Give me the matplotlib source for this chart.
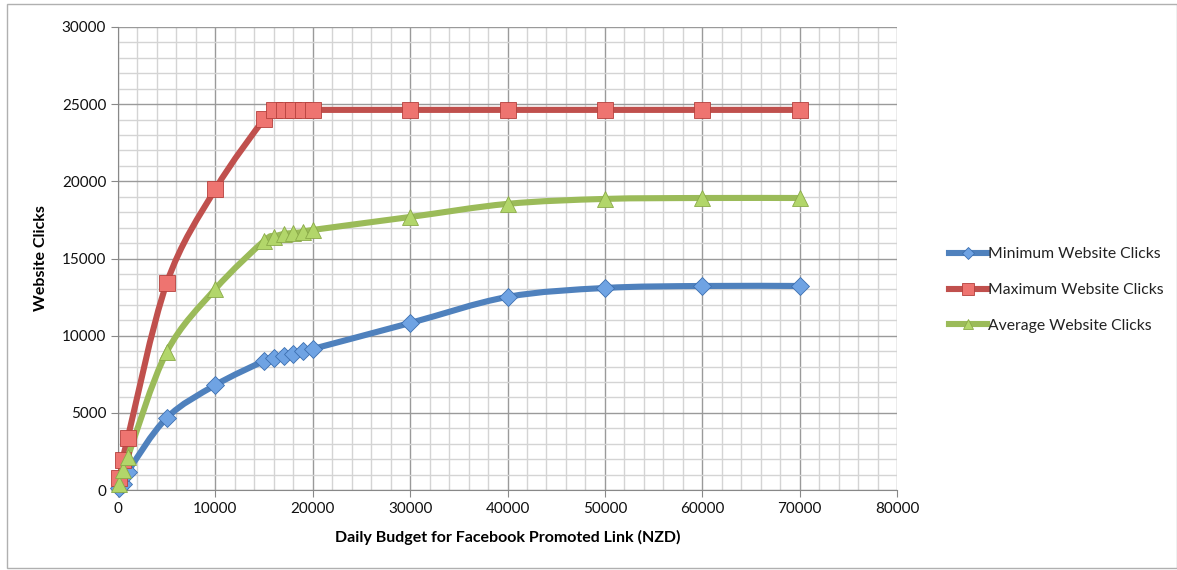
import matplotlib
matplotlib.use("Agg")
import matplotlib.pyplot as plt
from matplotlib.path import Path
from matplotlib.patches import PathPatch, Rectangle
from matplotlib.ticker import MultipleLocator

plt.rcParams['font.family'] = ['Lato', 'DejaVu Sans']

budget = [100, 500, 1000, 5000, 10000, 15000, 16000, 17000, 18000, 19000, 20000,
          30000, 40000, 50000, 60000, 70000]
min_clicks = [100, 400, 1170, 4670, 6800, 8360, 8550, 8680, 8810, 9010, 9140,
              10820, 12510, 13090, 13220, 13220]
max_clicks = [780, 1940, 3370, 13400, 19500, 24040, 24630, 24630, 24630, 24630, 24630,
              24630, 24630, 24630, 24630, 24630]
avg_clicks = [390, 1300, 2140, 8940, 13030, 16140, 16400, 16590, 16650, 16720, 16850,
              17690, 18540, 18860, 18920, 18920]

series = [
    ("Minimum Website Clicks", min_clicks, "#4F81BD", "D", 9, "#6FA3E3", "#3C6FB0"),
    ("Maximum Website Clicks", max_clicks, "#C0504D", "s", 11.5, "#EE7470", "#B5403C"),
    ("Average Website Clicks", avg_clicks, "#9BBB59", "^", 11, "#B2D66A", "#8AAA48"),
]


def smooth_path(xs, ys):
    # Excel style smoothed line (Catmull-Rom -> cubic bezier)
    pts = list(zip(xs, ys))
    verts = [pts[0]]
    codes = [Path.MOVETO]
    n = len(pts)
    for i in range(n - 1):
        p0 = pts[i - 1] if i > 0 else pts[i]
        p1 = pts[i]
        p2 = pts[i + 1]
        p3 = pts[i + 2] if i + 2 < n else pts[i + 1]
        c1 = (p1[0] + (p2[0] - p0[0]) / 6, p1[1] + (p2[1] - p0[1]) / 6)
        c2 = (p2[0] - (p3[0] - p1[0]) / 6, p2[1] - (p3[1] - p1[1]) / 6)
        verts += [c1, c2, p2]
        codes += [Path.CURVE4] * 3
    return Path(verts, codes)


fig = plt.figure(figsize=(11.77, 5.70), dpi=100)
ax = fig.add_axes([118 / 1177, 80 / 570, 779 / 1177, 463 / 570])

ax.set_xlim(0, 80000)
ax.set_ylim(0, 30000)
ax.xaxis.set_major_locator(MultipleLocator(10000))
ax.xaxis.set_minor_locator(MultipleLocator(2000))
ax.yaxis.set_major_locator(MultipleLocator(5000))
ax.yaxis.set_minor_locator(MultipleLocator(1000))
ax.grid(which='minor', color='#d4d4d4', linewidth=1.0)
ax.grid(which='major', color='#9a9a9a', linewidth=1.0)
ax.set_axisbelow(True)
ax.tick_params(which='minor', length=0)
ax.tick_params(which='major', length=5, color='#888888', labelsize=11,
               labelcolor='#111111', direction='out')
for side in ['top', 'right']:
    ax.spines[side].set_visible(False)
for side in ['left', 'bottom']:
    ax.spines[side].set_color('#888888')

handles = []
for label, vals, col, mk, ms, mfc, mec in series:
    ax.add_patch(PathPatch(smooth_path(budget, vals), facecolor='none', edgecolor=col,
                           linewidth=4.4, capstyle='round', joinstyle='round', zorder=3))
    ax.plot(budget, vals, linestyle='none', marker=mk, markersize=ms,
            markerfacecolor=mfc, markeredgecolor=mec, markeredgewidth=0.6,
            clip_on=False, zorder=4)
    h, = ax.plot([], [], color=col, linewidth=4.4, marker=mk, markersize=ms * 0.7,
                 markerfacecolor=mfc, markeredgecolor=mec, markeredgewidth=0.6, label=label)
    handles.append(h)

ax.set_xlabel("Daily Budget for Facebook Promoted Link (NZD)", fontsize=11.5,
              fontweight='bold', labelpad=10)
ax.set_ylabel("Website Clicks", fontsize=11.5, fontweight='bold', labelpad=10)

fig.legend(handles=handles, loc='center left', bbox_to_anchor=(935 / 1177, 1 - 290 / 570),
           frameon=False, fontsize=11.3, labelspacing=1.4, handlelength=2.4,
           handletextpad=0.1, labelcolor='#222222')

fig.patches.append(Rectangle((7 / 1177, 2 / 570), 1 - 7 / 1177, 1 - 6 / 570,
                             transform=fig.transFigure, fill=False,
                             edgecolor='#b0b0b0', linewidth=1.0))

fig.savefig("out.png", dpi=100)
